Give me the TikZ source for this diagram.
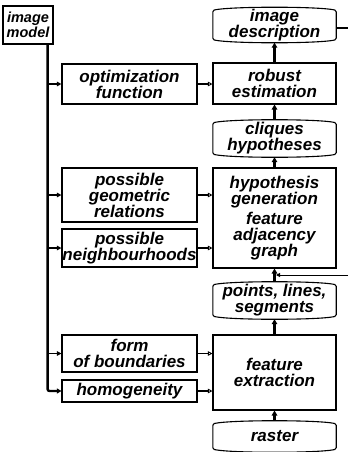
\documentclass[tikz,border=0pt]{standalone}
\usepackage{fontspec}
\setmainfont{Liberation Sans}
\usetikzlibrary{arrows.meta,calc}
\tikzset{
 lbl/.style={font=\fontsize{17}{16}\selectfont\bfseries\itshape, align=center, inner sep=0pt},
 box/.style={lbl, draw, line width=1.1pt},
 shell/.style={inner sep=0pt, minimum width=123},
 feed/.style={line width=2.4pt, -{Triangle[length=5pt,width=5.5pt]}},
 branch/.style={line width=1.6pt, -{Triangle[length=4.5pt,width=4.5pt]}},
 cross/.style={line width=1.4pt, -{Triangle[open,length=4.5pt,width=4.5pt,line width=0.9pt]}},
 fback/.style={line width=1pt, -{Triangle[length=4pt,width=4pt]}},
}
\newcommand{\barrelshape}[2]{%
 \draw[line width=1.1pt, rounded corners=1.5pt] (#1.south west) -- (#1.north west)
  .. controls ($(#1.north west)+(18,#2)$) and ($(#1.north east)+(-18,#2)$) .. (#1.north east)
  -- (#1.south east)
  .. controls ($(#1.south east)+(-18,-#2)$) and ($(#1.south west)+(18,-#2)$) .. (#1.south west) -- cycle;}
\begin{document}
\begin{tikzpicture}[x=1pt,y=1pt]
\useasboundingbox (0,0) rectangle (348,-452);
\fill[white] (0,0) rectangle (348,-452);

% left column
\node[box, font=\fontsize{14.5}{14.5}\selectfont\bfseries\itshape, minimum width=50, minimum height=38] (im) at (28,-25) {image\\model};
\coordinate (trunk) at ($(im.south east)+(-6,0)$);
\node[box, minimum width=135, minimum height=40] (opt) at (129.5,-84) {optimization\\function};
\node[box, minimum width=135, minimum height=54] (geo) at (129.5,-195) {possible\\geometric\\relations};
\node[box, minimum width=135, minimum height=38] (nei) at (129.5,-248) {possible\\neighbourhoods};
\node[box, minimum width=135, minimum height=37] (form) at (129.5,-353.5) {form\\of boundaries};
\node[box, minimum width=135, minimum height=22] (hom) at (129.5,-391) {homogeneity};

% right column
\node[shell, minimum height=29] (desc) at (274.5,-25) {};
\node[lbl] (desctxt) at (desc.center) {image\\description};
\node[box, minimum width=123, minimum height=41] (rob) at (274.5,-83.5) {robust\\estimation};
\node[shell, minimum height=31] (cli) at (274.5,-138.5) {};
\node[lbl] (clitxt) at (cli.center) {cliques\\hypotheses};
\node[box, minimum width=123, minimum height=100] (hyp) at (274.5,-218) {hypothesis\\generation\\[4pt]feature\\adjacency\\graph};
\node[shell, minimum height=31] (pts) at (274.5,-300.5) {};
\node[lbl] (ptstxt) at (pts.center) {points, lines,\\segments};
\node[box, minimum width=123, minimum height=75] (fex) at (274.5,-372.5) {feature\\extraction};
\node[shell, minimum height=25] (ras) at (274.5,-436.5) {};
\node[lbl] (rastxt) at (ras.center) {raster};

\barrelshape{desc}{4}
\barrelshape{cli}{4}
\barrelshape{pts}{4}
\barrelshape{ras}{4}

% main trunk
\draw[line width=2.4pt, -{Triangle[length=4.5pt,width=5pt]}, rounded corners=2pt] (trunk) |- (hom.west);
\draw[branch] (trunk |- opt.west) -- (opt.west);
\draw[branch] (trunk |- geo.west) -- (geo.west);
\draw[branch] (trunk |- nei.west) -- (nei.west);
\draw[branch] (trunk |- form.west) -- (form.west);

% cross arrows
\draw[cross] (opt.east) -- (opt.east -| rob.west);
\draw[cross] (geo.east) -- (geo.east -| hyp.west);
\draw[cross] (nei.east) -- (nei.east -| hyp.west);
\draw[cross] (form.east) -- (form.east -| fex.west);
\draw[cross] (hom.east) -- (hom.east -| fex.west);

% right column flow
\draw[feed, shorten >=3pt] (rob.north) -- (desc.south);
\draw[feed, shorten <=3pt] (cli.north) -- (rob.south);
\draw[feed, shorten >=3pt] (hyp.north) -- (cli.south);
\draw[feed, shorten <=3pt] (pts.north) -- (hyp.south);
\draw[feed, shorten >=3pt] (fex.north) -- (pts.south);
\draw[feed, shorten <=3pt] (ras.north) -- (fex.south);

% feedback stubs
\coordinate (fbT) at (348,-28);
\draw[line width=1.4pt] (fbT -| desc.east) -- (fbT);
\coordinate (fbR) at (348,-275);
\coordinate (fbL) at (276,-275);
\draw[fback] (fbR) -- (fbL);
\end{tikzpicture}
\end{document}
